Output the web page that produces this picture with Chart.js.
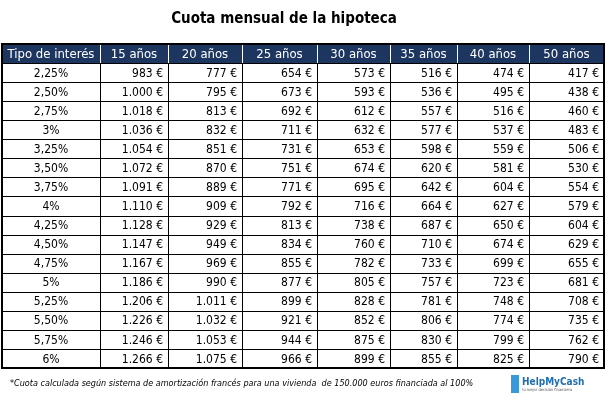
<!DOCTYPE html>
<html><head><meta charset="utf-8">
<script src="https://cdn.jsdelivr.net/npm/chart.js@4"></script>
<style>html,body{margin:0;padding:0;background:#fff}#w{width:610px;height:405px}</style>
</head><body><div id="w"><canvas id="c"></canvas></div>
<script>
const title = "Cuota mensual de la hipoteca";
const headers = ["Tipo de interés","15 años","20 años","25 años","30 años","35 años","40 años","50 años"];
const rates = ["2,25%","2,50%","2,75%","3%","3,25%","3,50%","3,75%","4%","4,25%","4,50%","4,75%","5%","5,25%","5,50%","5,75%","6%"];
const y15 = [983,1000,1018,1036,1054,1072,1091,1110,1128,1147,1167,1186,1206,1226,1246,1266];
const y20 = [777,795,813,832,851,870,889,909,929,949,969,990,1011,1032,1053,1075];
const y25 = [654,673,692,711,731,751,771,792,813,834,855,877,899,921,944,966];
const y30 = [573,593,612,632,653,674,695,716,738,760,782,805,828,852,875,899];
const y35 = [516,536,557,577,598,620,642,664,687,710,733,757,781,806,830,855];
const y40 = [474,495,516,537,559,581,604,627,650,674,699,723,748,774,799,825];
const y50 = [417,438,460,483,506,530,554,579,604,629,655,681,708,735,762,790];
const footnote = "*Cuota calculada según sistema de amortización francés para una vivienda  de 150.000 euros financiada al 100%";
const series = [y15,y20,y25,y30,y35,y40,y50];
const colWeights = [98,68,74,75,73,67,72,75];
const FONT = "'DejaVu Sans Condensed','Liberation Sans',sans-serif";
const fmt = v => v.toString().replace(/\B(?=(\d{3})+(?!\d))/g,".") + " €";

const tablePlugin = {
  id:'table',
  afterDraw(chart){
    const ctx = chart.ctx, a = chart.chartArea, ys = chart.scales.y;
    const tot = colWeights.reduce((s,v)=>s+v,0);
    const xs=[a.left]; colWeights.forEach(w=>xs.push(xs[xs.length-1]+w/tot*(a.right-a.left)));
    const rowH = (a.bottom-a.top)/(rates.length+1);
    ctx.save();
    ctx.fillStyle="#000"; ctx.font="bold 15px "+FONT; ctx.textAlign="center"; ctx.textBaseline="middle";
    ctx.fillText(title, 284, 19);
    ctx.fillStyle="#1c3660"; ctx.fillRect(a.left,a.top,a.right-a.left,rowH);
    ctx.font="13px "+FONT; ctx.fillStyle="#fff";
    headers.forEach((h,i)=>ctx.fillText(h,(xs[i]+xs[i+1])/2, ys.getPixelForValue(0)+1));
    ctx.fillStyle="#000"; ctx.font="12px "+FONT;
    rates.forEach((r,ri)=>{
      const y = ys.getPixelForValue(ri+1)+1;
      ctx.textAlign="center"; ctx.fillText(r,(xs[0]+xs[1])/2,y);
      ctx.textAlign="right";
      series.forEach((s,ci)=>ctx.fillText(fmt(s[ri]), xs[ci+2]-5, y));
    });
    ctx.strokeStyle="#000"; ctx.lineWidth=1;
    for(let r=1;r<=rates.length;r++){const y=Math.round(a.top+r*rowH)+0.5;ctx.beginPath();ctx.moveTo(a.left,y);ctx.lineTo(a.right,y);ctx.stroke();}
    xs.slice(1,-1).forEach(x=>{x=Math.round(x)+0.5;ctx.beginPath();ctx.moveTo(x,a.top+rowH);ctx.lineTo(x,a.bottom);ctx.stroke();});
    ctx.strokeStyle="#fff";
    xs.slice(1,-1).forEach(x=>{x=Math.round(x)+0.5;ctx.beginPath();ctx.moveTo(x,a.top);ctx.lineTo(x,a.top+rowH);ctx.stroke();});
    ctx.strokeStyle="#000"; ctx.lineWidth=2; ctx.strokeRect(a.left,a.top,a.right-a.left,a.bottom-a.top);
    ctx.font="italic 9px "+FONT; ctx.textAlign="left"; ctx.fillStyle="#000";
    ctx.fillText(footnote, 10, 384);
    ctx.fillStyle="#3a9ad9"; ctx.fillRect(511,375,8,18);
    ctx.font="bold 10px "+FONT; ctx.fillStyle="#1f6fb0"; ctx.fillText("HelpMyCash",522,382);
    ctx.font="4px "+FONT; ctx.fillStyle="#555"; ctx.fillText("tu mejor decisión financiera",522,390);
    ctx.restore();
  }
};

new Chart(document.getElementById('c'),{
  type:'bar',
  data:{labels:["h",...rates],datasets:[]},
  options:{
    responsive:true,maintainAspectRatio:false,animation:false,
    layout:{padding:{top:44,left:2,right:6,bottom:37}},
    plugins:{legend:{display:false},tooltip:{enabled:false},title:{display:false}},
    scales:{
      x:{type:'category',labels:headers,display:false},
      y:{type:'category',labels:["h",...rates],display:false,offset:true}
    }
  },
  plugins:[tablePlugin]
});
</script></body></html>
